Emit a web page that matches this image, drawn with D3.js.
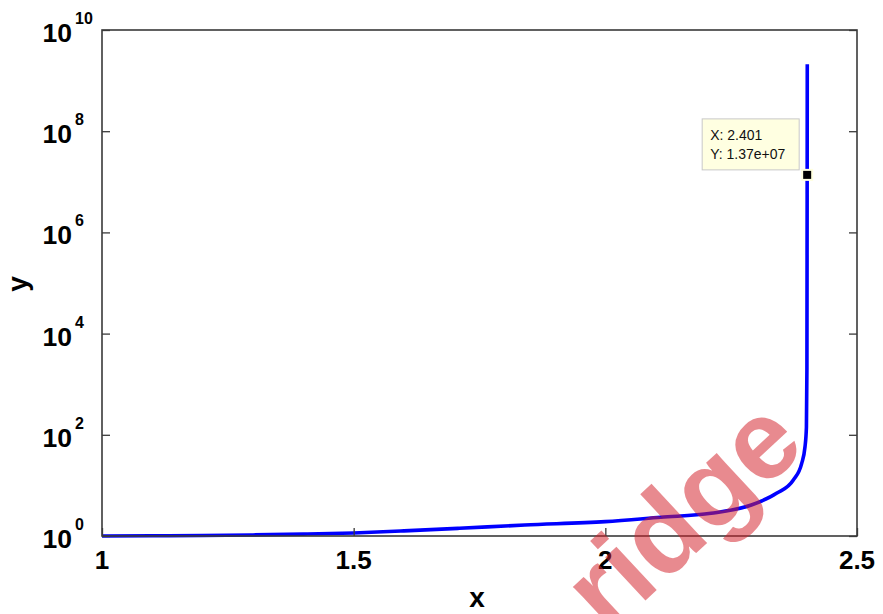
<!DOCTYPE html>
<html>
<head>
<meta charset="utf-8">
<script src="https://cdn.jsdelivr.net/npm/d3@7/dist/d3.min.js"></script>
<style>
  html, body { margin: 0; padding: 0; background: #fff; }
  svg { display: block; }
  text { font-family: "Liberation Sans", Arial, Helvetica, sans-serif; }
</style>
</head>
<body>
<svg id="chart" width="883" height="614"></svg>
<script>
// Solution curve y(x) on a log scale, blowing up near x = 2.401
const xValues = [1.00, 1.10, 1.20, 1.30, 1.40, 1.50, 1.60, 1.71, 1.84, 2.00, 2.11, 2.21, 2.29, 2.34, 2.3735, 2.39, 2.3967, 2.3995, 2.4005, 2.401, 2.4012];
const yValues = [1.00, 1.01, 1.02, 1.05, 1.09, 1.15, 1.26, 1.42, 1.65, 1.92, 2.34, 2.81, 4.1, 6.97, 12.8, 27, 58, 140, 2000, 1.37e7, 2.1e9];

const xTicks = [1, 1.5, 2, 2.5];
const xTickLabels = ["1", "1.5", "2", "2.5"];
const yTicks = [1, 1e2, 1e4, 1e6, 1e8, 1e10];
const yTickExponents = ["0", "2", "4", "6", "8", "10"];

// Data tip
const tipX = [2.401];
const tipY = [1.37e7];
const tipLines = ["X: 2.401", "Y: 1.37e+07"];

const svg = d3.select("#chart");
const plotLeft = 102, plotRight = 857, plotTop = 30, plotBottom = 536;

const x = d3.scaleLinear().domain([1, 2.5]).range([plotLeft, plotRight]);
const y = d3.scaleLog().domain([1, 1e10]).range([plotBottom, plotTop]);

const axisColor = "#3a3a3a";

// Curve
const pts = xValues.map((v, i) => [v, yValues[i]]);
svg.append("path")
  .datum(pts)
  .attr("fill", "none")
  .attr("stroke", "#0000ff")
  .attr("stroke-width", 3.6)
  .attr("stroke-linejoin", "round")
  .attr("d", d3.line().curve(d3.curveMonotoneX).x(d => x(d[0])).y(d => y(d[1])));

// Frame
svg.append("rect")
  .attr("x", plotLeft).attr("y", plotTop)
  .attr("width", plotRight - plotLeft).attr("height", plotBottom - plotTop)
  .attr("fill", "none").attr("stroke", axisColor).attr("stroke-width", 1.6);

// Bottom axis (ticks pointing inward)
const xAxis = d3.axisBottom(x).tickValues(xTicks).tickSize(-8).tickFormat("");
const gx = svg.append("g").attr("transform", `translate(0,${plotBottom})`).call(xAxis);
gx.select(".domain").remove();
gx.selectAll(".tick line").attr("stroke", axisColor).attr("stroke-width", 1.3);

svg.append("g").selectAll("text")
  .data(xTicks)
  .join("text")
  .attr("x", d => x(d))
  .attr("y", 569)
  .attr("text-anchor", "middle")
  .attr("font-size", 26)
  .attr("font-weight", "bold")
  .attr("fill", "#000")
  .text((d, i) => xTickLabels[i]);

// Left and right axes (ticks pointing inward)
const yAxisL = d3.axisLeft(y).tickValues(yTicks).tickSize(-8).tickFormat("");
const gyl = svg.append("g").attr("transform", `translate(${plotLeft},0)`).call(yAxisL);
gyl.select(".domain").remove();
gyl.selectAll(".tick line").attr("stroke", axisColor).attr("stroke-width", 1.3);

const yAxisR = d3.axisRight(y).tickValues(yTicks).tickSize(-8).tickFormat("");
const gyr = svg.append("g").attr("transform", `translate(${plotRight},0)`).call(yAxisR);
gyr.select(".domain").remove();
gyr.selectAll(".tick line").attr("stroke", axisColor).attr("stroke-width", 1.3);

// Power-of-ten labels
const yl = svg.append("g");
yl.selectAll("text.base")
  .data(yTicks)
  .join("text")
  .attr("class", "base")
  .attr("x", 72)
  .attr("y", d => y(d) + 12)
  .attr("text-anchor", "end")
  .attr("font-size", 26.5)
  .attr("font-weight", "bold")
  .attr("fill", "#000")
  .text("10");
yl.selectAll("text.exp")
  .data(yTicks)
  .join("text")
  .attr("class", "exp")
  .attr("x", 75)
  .attr("y", d => y(d) - 6)
  .attr("font-size", 16)
  .attr("font-weight", "bold")
  .attr("fill", "#000")
  .text((d, i) => yTickExponents[i]);

// Axis titles
svg.append("text")
  .attr("x", 477).attr("y", 607)
  .attr("text-anchor", "middle")
  .attr("font-size", 28).attr("font-weight", "bold")
  .text("x");
svg.append("text")
  .attr("transform", "translate(27,284) rotate(-90)")
  .attr("text-anchor", "middle")
  .attr("font-size", 28).attr("font-weight", "bold")
  .text("y");

// Data tip box and marker
const mx = x(tipX[0]), my = y(tipY[0]);
const tip = svg.append("g");
tip.append("rect")
  .attr("x", mx - 105).attr("y", my - 56)
  .attr("width", 97).attr("height", 51)
  .attr("fill", "#ffffe1")
  .attr("stroke", "#c8c8c8").attr("stroke-width", 1);
tip.selectAll("text")
  .data(tipLines)
  .join("text")
  .attr("x", mx - 97)
  .attr("y", (d, i) => my - 35 + i * 19.5)
  .attr("font-size", 14)
  .attr("fill", "#111")
  .text(d => d);
tip.append("rect")
  .attr("x", mx - 5).attr("y", my - 5)
  .attr("width", 10).attr("height", 10)
  .attr("fill", "#000")
  .attr("stroke", "#ffffe0").attr("stroke-width", 2);

// Watermark
svg.append("text")
  .attr("transform", "translate(708,542) rotate(-43)")
  .attr("text-anchor", "middle")
  .attr("font-size", 112)
  .attr("font-weight", "bold")
  .attr("fill", "rgb(210,30,40)")
  .attr("fill-opacity", 0.52)
  .text("ridge");
</script>
</body>
</html>
